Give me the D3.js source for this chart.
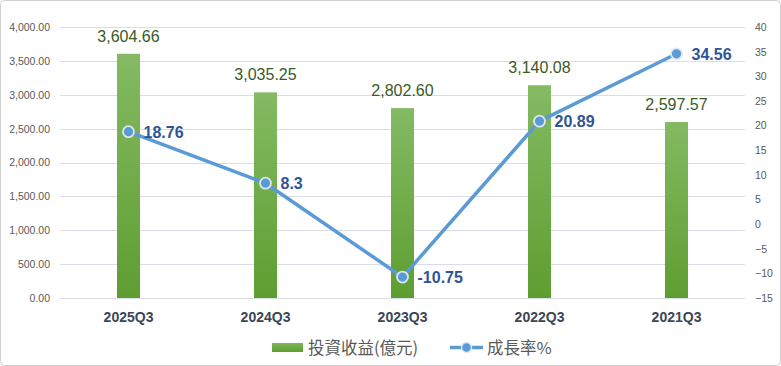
<!DOCTYPE html>
<html><head><meta charset="utf-8">
<script src="https://cdn.jsdelivr.net/npm/d3@7"></script>
<style>html,body{margin:0;padding:0;background:#fff;}svg{display:block;}</style>
</head><body>
<svg id="c" width="781" height="366"></svg>
<script>
const categories = ["2025Q3","2024Q3","2023Q3","2022Q3","2021Q3"];
const investIncome = [3604.66, 3035.25, 2802.60, 3140.08, 2597.57];
const growthRate = [18.76, 8.3, -10.75, 20.89, 34.56];
const growthLabels = ["18.76","8.3","-10.75","20.89","34.56"];
const leftTicks = [0,500,1000,1500,2000,2500,3000,3500,4000];
const rightTicks = [-15,-10,-5,0,5,10,15,20,25,30,35,40];
const seriesNames = ["投資收益(億元)","成長率%"];

const svg = d3.select("#c");
const W = 781, H = 366;
const L = 60, R = 745, T = 27, B = 298;
const font = "'Noto Sans CJK TC','Noto Sans',sans-serif";

svg.append("rect").attr("x",0.5).attr("y",0.5).attr("width",W-1).attr("height",H-1)
  .attr("rx",4).attr("fill","#fff").attr("stroke","#d0d0d0");

const x = d3.scaleBand().domain(categories).range([L,R]);
const yL = d3.scaleLinear().domain([0,4000]).range([B,T]);
const yR = d3.scaleLinear().domain([-15,40]).range([B,T]);

const defs = svg.append("defs");
const g = defs.append("linearGradient").attr("id","bg").attr("x1",0).attr("y1",0).attr("x2",0).attr("y2",1);
g.append("stop").attr("offset","0%").attr("stop-color","#84BA63");
g.append("stop").attr("offset","100%").attr("stop-color","#5E9E31");
const lg = defs.append("linearGradient").attr("id","lgb").attr("x1",0).attr("y1",0).attr("x2",0).attr("y2",1);
lg.append("stop").attr("offset","0%").attr("stop-color","#7DB65A");
lg.append("stop").attr("offset","100%").attr("stop-color","#5E9E31");

// gridlines
svg.append("g").selectAll("line").data(leftTicks).join("line")
  .attr("x1",L).attr("x2",R).attr("y1",d=>Math.round(yL(d))+0.5).attr("y2",d=>Math.round(yL(d))+0.5)
  .attr("stroke","#D9DEE6").attr("stroke-width",1);

// left axis
const axL = svg.append("g").attr("transform",`translate(${L},0)`)
  .call(d3.axisLeft(yL).tickValues(leftTicks).tickFormat(d3.format(",.2f")).tickSize(0).tickPadding(10));
axL.select(".domain").remove();
axL.selectAll("text").attr("fill","#595959").style("font-family","'Liberation Sans',Arial,sans-serif").style("font-size","10.5px");

// right axis
const axR = svg.append("g").attr("transform",`translate(${R},0)`)
  .call(d3.axisRight(yR).tickValues(rightTicks).tickSize(0).tickPadding(10));
axR.select(".domain").remove();
axR.selectAll("text").attr("fill","#595959").style("font-family","'Liberation Sans',Arial,sans-serif").style("font-size","10.5px");

// bottom axis
const axB = svg.append("g").attr("transform",`translate(0,${B})`)
  .call(d3.axisBottom(x).tickSize(0).tickPadding(14));
axB.select(".domain").remove();
axB.selectAll("text").attr("fill","#3B4656").style("font-family","'Liberation Sans',Arial,sans-serif").style("font-size","14px").style("font-weight","bold");

// bars
const bw = 23;
svg.append("g").selectAll("rect").data(investIncome).join("rect")
  .attr("x",(d,i)=>x(categories[i])+x.bandwidth()/2-bw/2)
  .attr("width",bw)
  .attr("y",d=>yL(d)).attr("height",d=>yL(0)-yL(d))
  .attr("fill","url(#bg)");

svg.append("g").selectAll("text").data(investIncome).join("text")
  .attr("x",(d,i)=>x(categories[i])+x.bandwidth()/2)
  .attr("y",d=>yL(d)-12)
  .attr("text-anchor","middle")
  .attr("fill","#3A5A1F")
  .style("font-family","'Liberation Sans',Arial,sans-serif").style("font-size","16px")
  .text(d=>d3.format(",.2f")(d));

// line
const cx = (d,i)=>x(categories[i])+x.bandwidth()/2;
const line = d3.line().x((d,i)=>cx(d,i)).y(d=>yR(d));
svg.append("path").datum(growthRate).attr("d",line).attr("fill","none")
  .attr("stroke","#5B9BD5").attr("stroke-width",3.5).attr("stroke-linejoin","round");
svg.append("g").selectAll("circle").data(growthRate).join("circle")
  .attr("cx",cx).attr("cy",d=>yR(d)).attr("r",5.5)
  .attr("fill","#5B9BD5").attr("stroke","#DCE6F2").attr("stroke-width",1.8);
svg.append("g").selectAll("text").data(growthRate).join("text")
  .attr("x",(d,i)=>cx(d,i)+15).attr("y",d=>yR(d)+6)
  .attr("fill","#2F5597")
  .style("font-family","'Liberation Sans',Arial,sans-serif").style("font-size","16px").style("font-weight","bold")
  .text((d,i)=>growthLabels[i]);

// legend
const leg = svg.append("g");
leg.append("rect").attr("x",272).attr("y",343).attr("width",31).attr("height",9).attr("fill","url(#lgb)");
leg.append("text").attr("x",308).attr("y",353.5).attr("fill","#595959")
  .style("font-family",font).style("font-size","16.5px").text(seriesNames[0]);
leg.append("line").attr("x1",450).attr("x2",483).attr("y1",347.5).attr("y2",347.5)
  .attr("stroke","#5B9BD5").attr("stroke-width",3.5);
leg.append("circle").attr("cx",466.5).attr("cy",347.5).attr("r",5).attr("fill","#5B9BD5").attr("stroke","#DCE6F2").attr("stroke-width",1.5);
leg.append("text").attr("x",487).attr("y",353.5).attr("fill","#595959")
  .style("font-family",font).style("font-size","16.5px").text(seriesNames[1]);
</script>
</body></html>
